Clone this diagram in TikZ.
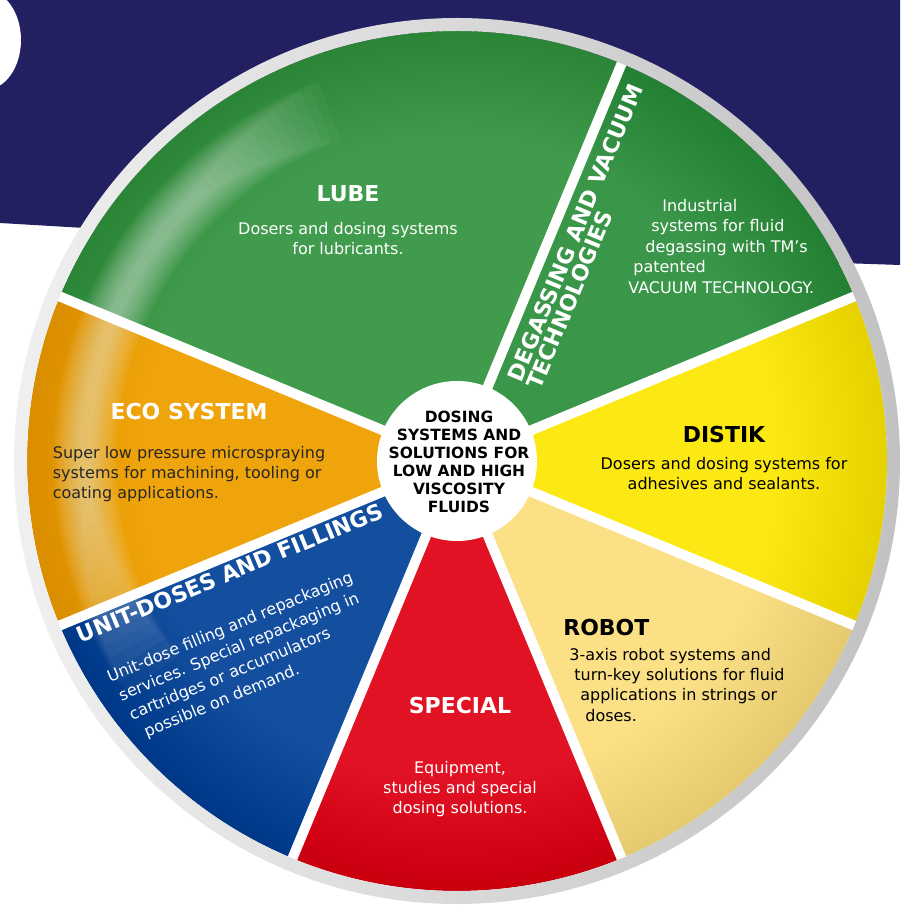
\documentclass[tikz,border=0pt]{standalone}
\usepackage{fontspec}
\setmainfont{DejaVu Sans}
\usetikzlibrary{positioning}

\begin{document}
\begin{tikzpicture}[x=0.02cm,y=0.02cm,
	head text/.style={font=\fontsize{12.5pt}{11.6pt}\selectfont\bfseries,inner sep=0pt},
	body text/.style={font=\fontsize{9.1pt}{11.6pt}\selectfont,inner sep=0pt},
	gap line/.style={white,line width=0.2cm}]
	
	\definecolor{navy}{RGB}{35,32,98}
	\definecolor{lubegreen}{RGB}{64,155,76}
	\definecolor{vacgreen}{RGB}{58,150,72}
	\definecolor{distikyellow}{RGB}{252,232,18}
	\definecolor{robotyellow}{RGB}{251,224,134}
	\definecolor{specialred}{RGB}{224,18,36}
	\definecolor{unitblue}{RGB}{20,78,158}
	\definecolor{ecoorange}{RGB}{240,164,12}
	
	\useasboundingbox (-457,-444) rectangle (443,461);
	\fill[white] (-457,-444) rectangle (443,461);
	\fill[navy] (-457,461) -- (443,461) -- (443,196) -- (0,211) -- (-457,238) -- cycle;
	\fill[white] (-472,421) ellipse (36 and 50);
	
	\foreach \a/\b/\c in {67.5/157.5/lubegreen,22.5/67.5/vacgreen,-22.5/22.5/distikyellow,
		-67.5/-22.5/robotyellow,-112.5/-67.5/specialred,-157.5/-112.5/unitblue,157.5/202.5/ecoorange}
	\fill[\c] (0,0) -- (\a:430) arc[start angle=\a,end angle=\b,radius=430] -- cycle;
	
	% soft shadow towards the rim and glossy band on the left
	\foreach \r in {320,325,...,425}
	\fill[black,opacity=0.005,even odd rule] (0,0) circle (430) circle (\r);
	\foreach \i in {0,...,15}
	\draw[white,opacity=0.035,line width=(64-3.6*\i)*0.02cm] (110+1.5*\i:372) arc[start angle=110+1.5*\i,end angle=215-1.8*\i,radius=372];
	
	\foreach \a in {22.5,67.5,157.5,202.5,247.5,292.5,337.5}
	\draw[gap line] (0,0) -- (\a:432);
	\shade[left color=black!6,right color=black!24,even odd rule] (0,0) circle (443) circle (430);
	\fill[white] (0,0) circle (80);
	
	\node[head text,white,anchor=base] (lube) at (-109,259) {LUBE};
	\node[body text,white,align=center,below=0.38cm of lube] (lubetxt) {Dosers and dosing systems\\for lubricants.};
	
	\node[head text,white,align=left,rotate=67.5,anchor=north west] (vac) at (49,84) {DEGASSING AND VACUUM\\TECHNOLOGIES};
	\node[body text,white,align=left,anchor=north west] (vactxt) at (171,262) {\hspace*{0.68cm}Industrial\\\hspace*{0.46cm}systems for fluid\\\hspace*{0.34cm}degassing with TM’s\\\hspace*{0.1cm}patented\\VACUUM TECHNOLOGY.};
	
	\node[head text,anchor=base] (distik) at (267,18) {DISTIK};
	\node[body text,align=center,below=0.26cm of distik] (distiktxt) {Dosers and dosing systems for\\adhesives and sealants.};
	
	\node[head text,anchor=base west] (robot) at (106,-174) {ROBOT};
	\node[body text,align=left,below right=0.24cm and 0.12cm of robot.south west] (robottxt) {3-axis robot systems and\\\hspace*{0.1cm}turn-key solutions for fluid\\\hspace*{0.22cm}applications in strings or\\\hspace*{0.32cm}doses.};
	
	\node[head text,white,anchor=base] (special) at (3,-252) {SPECIAL};
	\node[body text,white,align=center,below=0.94cm of special] (specialtxt) {Equipment,\\studies and special\\dosing solutions.};
	
	\node[head text,white,rotate=22.5,anchor=north west] (unit) at (-383,-167) {UNIT-DOSES AND FILLINGS};
	\node[body text,white,align=left,rotate=22.5,anchor=north west,font=\fontsize{9.1pt}{12.3pt}\selectfont] (unittxt) at (-352,-210) {Unit-dose filling and repackaging\\\hspace*{0.07cm}services. Special repackaging in\\\hspace*{0.12cm}cartridges or accumulators\\\hspace*{0.26cm}possible on demand.};
	
	\node[head text,white,anchor=base] (eco) at (-268,41) {ECO SYSTEM};
	\node[body text,black!85,align=left,below=0.5cm of eco] (ecotxt) {Super low pressure microspraying\\systems for machining, tooling or\\coating applications.};
	
	\node[font=\fontsize{8.8pt}{10.2pt}\selectfont\bfseries,align=center,inner sep=0pt] (hub) at (2,-1) {DOSING\\SYSTEMS AND\\SOLUTIONS FOR\\LOW AND HIGH\\VISCOSITY\\FLUIDS};
\end{tikzpicture}
\end{document}
